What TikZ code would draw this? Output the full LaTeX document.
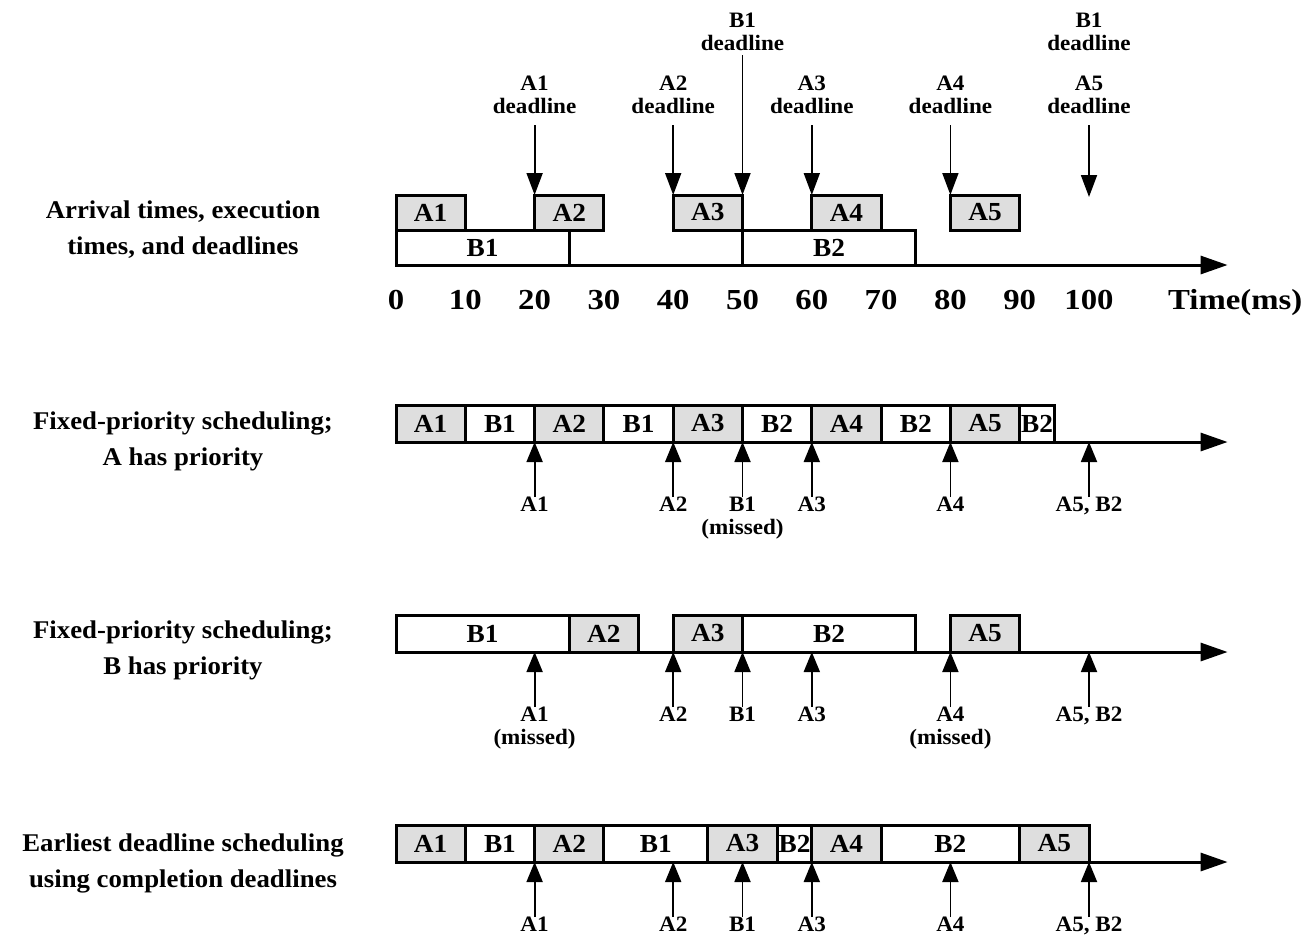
\documentclass[tikz,border=0pt]{standalone}
\usepackage{fontspec}
\setmainfont[FakeStretch=1.05]{Liberation Serif}
\newfontfamily\tickfont[FakeStretch=1.13]{Liberation Serif}
\usetikzlibrary{arrows.meta}
\newcommand\job[6]{%
  \pgfmathsetmacro\jw{(#3-#2)*6.93}%
  \node[jobbox,#5,minimum width=\jw pt] (#1) at (#2,#4) {#6};}
\begin{document}
\begin{tikzpicture}[x=1pt,y=-1pt,
  jobbox/.style={draw,line width=3pt,inner sep=0pt,outer sep=0pt,minimum height=35pt,
    font=\fontsize{26}{26}\selectfont\bfseries,anchor=north west},
  afill/.style={fill=black!13},
  bfill/.style={fill=white},
  bar/.style={minimum height=37pt},
  axisline/.style={line width=3pt,-{Triangle[length=27pt,width=18pt]}},
  dlarrow/.style={line width=1.8pt,-{Triangle[length=22pt,width=16pt]}},
  uparrow/.style={line width=1.8pt,-{Triangle[length=20pt,width=16pt]}},
  small/.style={font=\fontsize{22}{23}\selectfont\bfseries,align=center,inner sep=0pt},
  rowlabel/.style={font=\fontsize{25.5}{36}\selectfont\bfseries,align=center,inner sep=0pt},
  tick/.style={font=\tickfont\fontsize{29}{29}\selectfont\bfseries,inner sep=0pt,anchor=base}
]
\useasboundingbox (0,0) rectangle (1305,935);
\fill[white] (0,0) rectangle (1305,935);

% row labels
\node[rowlabel] (lab1) at (183,230) {Arrival times, execution\\times, and deadlines};
\node[rowlabel] (lab2) at (183,441) {Fixed-priority scheduling;\\A has priority};
\node[rowlabel] (lab3) at (183,650) {Fixed-priority scheduling;\\B has priority};
\node[rowlabel] (lab4) at (183,863) {Earliest deadline scheduling\\using completion deadlines};

\begin{scope}[xshift=396pt,x=6.93pt]
% ---------- section 1 ----------
\job{tA1}{0}{10}{195}{afill}{A1}
\job{tA2}{20}{30}{195}{afill}{A2}
\job{tA3}{40}{50}{195}{afill}{A3}
\job{tA4}{60}{70}{195}{afill}{A4}
\job{tA5}{80}{90}{195}{afill}{A5}
\job{tB1}{0}{25}{230}{bfill}{B1}
\job{tB2}{50}{75}{230}{bfill}{B2}
\coordinate (ax1s) at (0,265);
\coordinate (ax1e) at (120,265);
\draw[axisline] (ax1s) -- (ax1e);

\node[small,anchor=south] (dA1) at (20,114) {A1\\deadline};
\node[small,anchor=south] (dA2) at (40,114) {A2\\deadline};
\node[small,anchor=south] (dA3) at (60,114) {A3\\deadline};
\node[small,anchor=south] (dA4) at (80,114) {A4\\deadline};
\node[small,anchor=south] (dA5) at (100,114) {A5\\deadline};
\node[small,anchor=south] (dB1) at (50,51) {B1\\deadline};
\node[small,anchor=south] (dB1b) at (100,51) {B1\\deadline};
\coordinate (sA1) at (20,125);
\coordinate (sA2) at (40,125);
\coordinate (sA3) at (60,125);
\coordinate (sA4) at (80,125);
\coordinate (sA5) at (100,125);
\coordinate (sB1) at (50,55);
\coordinate (eA5) at (100,197);
\draw[dlarrow] (sA1) -- (tA2.north west);
\draw[dlarrow] (sA2) -- (tA3.north west);
\draw[dlarrow] (sA3) -- (tA4.north west);
\draw[dlarrow] (sA4) -- (tA5.north west);
\draw[dlarrow] (sB1) -- (tA3.north east);
\draw[dlarrow] (sA5) -- (eA5);

\foreach \t in {0,10,...,100} \node[tick] (tk\t) at (\t,309) {\t};
\node[tick,anchor=base west] (tunit) at (111.4,309) {Time(ms)};

% ---------- section 2 ----------
\job{pA1}{0}{10}{405}{afill,bar}{A1}
\job{pB1}{10}{20}{405}{bfill,bar}{B1}
\job{pA2}{20}{30}{405}{afill,bar}{A2}
\job{pB1b}{30}{40}{405}{bfill,bar}{B1}
\job{pA3}{40}{50}{405}{afill,bar}{A3}
\job{pB2}{50}{60}{405}{bfill,bar}{B2}
\job{pA4}{60}{70}{405}{afill,bar}{A4}
\job{pB2b}{70}{80}{405}{bfill,bar}{B2}
\job{pA5}{80}{90}{405}{afill,bar}{A5}
\job{pB2c}{90}{95}{405}{bfill,bar}{B2}
\coordinate (ax2s) at (0,442);
\coordinate (ax2e) at (120,442);
\draw[axisline] (ax2s) -- (ax2e);
\foreach \t/\n/\l in {20/a/A1, 40/b/A2, 50/c/{B1\\(missed)}, 60/d/A3, 80/e/A4, 100/f/{A5, B2}}{
  \node[small,anchor=north] (p\n) at (\t,497) {\l};
  \coordinate (pe\n) at (\t,442);
  \draw[uparrow] (p\n.north) -- (pe\n);
}

% ---------- section 3 ----------
\job{qB1}{0}{25}{615}{bfill,bar}{B1}
\job{qA2}{25}{35}{615}{afill,bar}{A2}
\job{qA3}{40}{50}{615}{afill,bar}{A3}
\job{qB2}{50}{75}{615}{bfill,bar}{B2}
\job{qA5}{80}{90}{615}{afill,bar}{A5}
\coordinate (ax3s) at (0,652);
\coordinate (ax3e) at (120,652);
\draw[axisline] (ax3s) -- (ax3e);
\foreach \t/\n/\l in {20/a/{A1\\(missed)}, 40/b/A2, 50/c/B1, 60/d/A3, 80/e/{A4\\(missed)}, 100/f/{A5, B2}}{
  \node[small,anchor=north] (q\n) at (\t,707) {\l};
  \coordinate (qe\n) at (\t,652);
  \draw[uparrow] (q\n.north) -- (qe\n);
}

% ---------- section 4 ----------
\job{rA1}{0}{10}{825}{afill,bar}{A1}
\job{rB1}{10}{20}{825}{bfill,bar}{B1}
\job{rA2}{20}{30}{825}{afill,bar}{A2}
\job{rB1b}{30}{45}{825}{bfill,bar}{B1}
\job{rA3}{45}{55}{825}{afill,bar}{A3}
\job{rB2}{55}{60}{825}{bfill,bar}{B2}
\job{rA4}{60}{70}{825}{afill,bar}{A4}
\job{rB2b}{70}{90}{825}{bfill,bar}{B2}
\job{rA5}{90}{100}{825}{afill,bar}{A5}
\coordinate (ax4s) at (0,862);
\coordinate (ax4e) at (120,862);
\draw[axisline] (ax4s) -- (ax4e);
\foreach \t/\n/\l in {20/a/A1, 40/b/A2, 50/c/B1, 60/d/A3, 80/e/A4, 100/f/{A5, B2}}{
  \node[small,anchor=north] (r\n) at (\t,917) {\l};
  \coordinate (re\n) at (\t,862);
  \draw[uparrow] (r\n.north) -- (re\n);
}
\end{scope}
\end{tikzpicture}
\end{document}
